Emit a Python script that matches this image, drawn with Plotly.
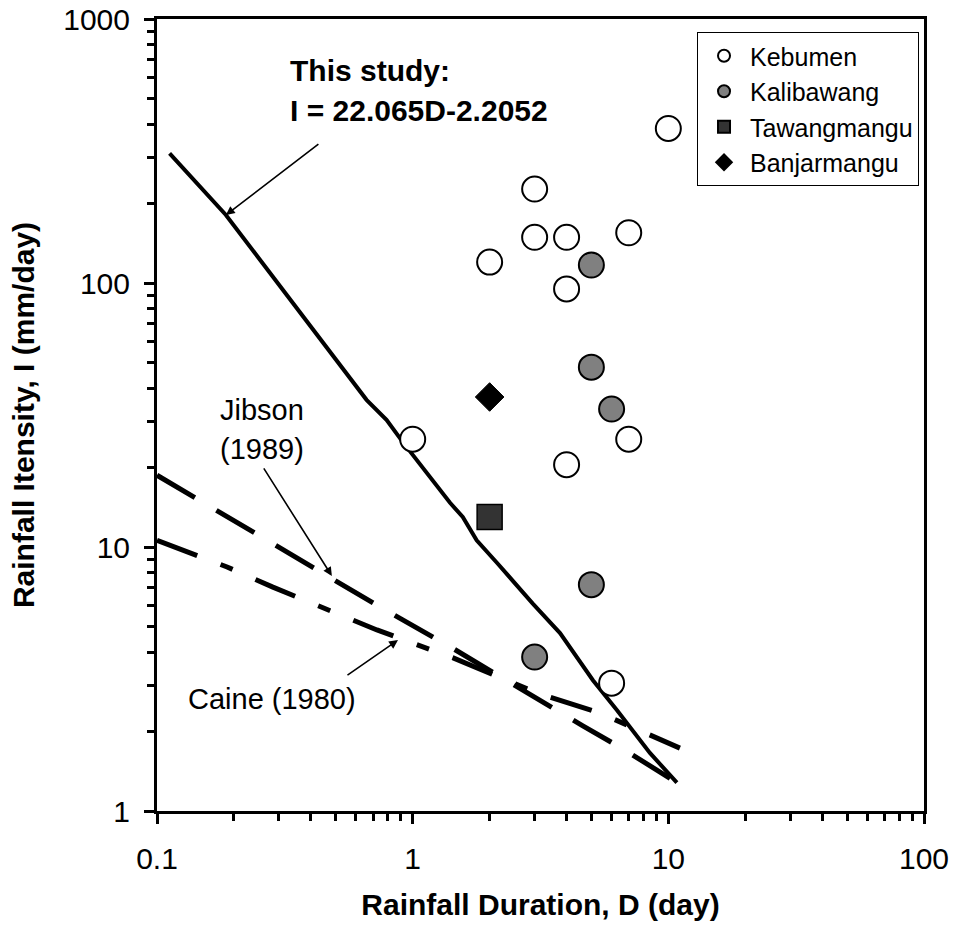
import numpy as np
import plotly.graph_objects as go

# scatter data: rainfall duration D (day) and intensity I (mm/day)
kebumen_d = [10, 3, 3, 4, 7, 2, 4, 1, 7, 4, 6]
kebumen_i = [385, 227, 149, 149, 155, 120, 95, 25.6, 25.6, 20.5, 3.05]
kalibawang_d = [5, 5, 6, 5, 3]
kalibawang_i = [117, 48, 33.3, 7.2, 3.83]
tawangmangu_d = [2]
tawangmangu_i = [13]
banjarmangu_d = [2]
banjarmangu_i = [37]

# threshold curves
study_d = [0.112, 0.186, 0.66, 0.79, 0.92, 1.40, 1.57, 1.78, 2.14, 2.95, 3.77, 5.07, 6.3, 7.08, 8.47, 10.8]
study_i = [310, 181, 36.1, 30.3, 24.8, 14.7, 13.0, 10.6, 8.7, 6.1, 4.72, 3.13, 2.41, 2.08, 1.66, 1.28]
jibson_d = [0.1, 0.237, 0.487, 0.70, 1.43, 2.88, 4.63, 6.64, 10.8]
jibson_i = [18.7, 11.4, 7.5, 6.14, 4.14, 2.75, 2.1, 1.72, 1.28]
caine_d = [0.1, 0.143, 0.188, 0.284, 0.434, 0.725, 1.44, 3.06, 5.4, 11.1]
caine_i = [10.6, 9.33, 8.4, 7.05, 5.93, 4.85, 3.8, 2.8, 2.35, 1.73]

FONT = "Arial, Liberation Sans, sans-serif"

fig = go.Figure()

fig.add_trace(go.Scatter(x=study_d, y=study_i, mode="lines", showlegend=False,
                         line=dict(color="black", width=4)))
fig.add_trace(go.Scatter(x=jibson_d, y=jibson_i, mode="lines", showlegend=False,
                         line=dict(color="black", width=5, dash="44px,25px")))
fig.add_trace(go.Scatter(x=caine_d, y=caine_i, mode="lines", showlegend=False,
                         line=dict(color="black", width=5, dash="43px,25px,13px,25px")))

fig.add_trace(go.Scatter(x=kebumen_d, y=kebumen_i, mode="markers", name="Kebumen",
                         marker=dict(symbol="circle", size=25, color="white",
                                     line=dict(color="black", width=2))))
fig.add_trace(go.Scatter(x=kalibawang_d, y=kalibawang_i, mode="markers", name="Kalibawang",
                         marker=dict(symbol="circle", size=25, color="#808080",
                                     line=dict(color="black", width=2))))
fig.add_trace(go.Scatter(x=tawangmangu_d, y=tawangmangu_i, mode="markers", name="Tawangmangu",
                         marker=dict(symbol="square", size=25, color="#333333",
                                     line=dict(color="black", width=1.5))))
fig.add_trace(go.Scatter(x=banjarmangu_d, y=banjarmangu_i, mode="markers", name="Banjarmangu",
                         marker=dict(symbol="diamond", size=22, color="black",
                                     line=dict(color="black", width=1))))

minor_vals = [m * 10.0 ** k for k in range(-1, 3) for m in range(2, 10)]

axis_common = dict(type="log", showgrid=False, zeroline=False, showline=True,
                   linecolor="black", linewidth=3, mirror=True,
                   ticks="outside", ticklen=10, tickwidth=3, tickcolor="black",
                   tickfont=dict(family=FONT, size=30, color="black"),
                   minor=dict(tickvals=minor_vals, ticks="outside", ticklen=7,
                              tickwidth=3, tickcolor="black", showgrid=False))

fig.update_xaxes(**axis_common, range=[-1, 2], tickvals=[0.1, 1, 10, 100],
                 ticktext=["0.1", "1", "10", "100"], ticklabelstandoff=9,
                 title=dict(text="<b>Rainfall Duration, D (day)</b>",
                            font=dict(family=FONT, size=30, color="black"), standoff=20))
fig.update_yaxes(**axis_common, range=[0, 3], tickvals=[1, 10, 100, 1000],
                 ticktext=["1", "10", "100", "1000"], ticklabelstandoff=8,
                 title=dict(text="<b>Rainfall Itensity, I (mm/day)</b>",
                            font=dict(family=FONT, size=30, color="black"), standoff=20))

annotations = [
    dict(text="<b>This study:</b>", x=0.171, y=0.9356, xanchor="left", size=30),
    dict(text="<b>I = 22.065D-2.2052</b>", x=0.171, y=0.885, xanchor="left", size=30),
    dict(text="Jibson", x=0.137, y=0.506, xanchor="center", size=29),
    dict(text="(1989)", x=0.137, y=0.457, xanchor="center", size=29),
    dict(text="Caine (1980)", x=0.150, y=0.1414, xanchor="center", size=29),
]
for a in annotations:
    fig.add_annotation(text=a["text"], xref="paper", yref="paper", x=a["x"], y=a["y"],
                       xanchor=a["xanchor"], yanchor="middle", showarrow=False,
                       font=dict(family=FONT, size=a["size"], color="black"))

# arrows: tip (D, I) and tail offset in pixels
arrows = [((0.186, 181), 94, -72), ((0.483, 7.77), -69, -109), ((0.876, 4.44), -52, 36)]
for (d, i), ax, ay in arrows:
    fig.add_annotation(x=np.log10(d), y=np.log10(i), xref="x", yref="y", text="",
                       showarrow=True, ax=ax, ay=ay, arrowhead=2, arrowsize=1.1,
                       arrowwidth=1.6, arrowcolor="black", standoff=0)

fig.update_layout(
    width=955, height=928,
    margin=dict(l=157, r=31, t=19, b=117, autoexpand=False),
    plot_bgcolor="white", paper_bgcolor="white",
    font=dict(family=FONT, color="black"),
    legend=dict(x=0.9935, y=0.9835, xanchor="right", yanchor="top",
                bgcolor="white", bordercolor="black", borderwidth=1,
                font=dict(family=FONT, size=25, color="black"),
                itemsizing="constant", itemwidth=42, tracegroupgap=2),
)

# the page's default body margin would shift the figure by 8px
fig.write_html("out.html", config={"displayModeBar": False},
               post_script="document.body.style.margin='0';")
